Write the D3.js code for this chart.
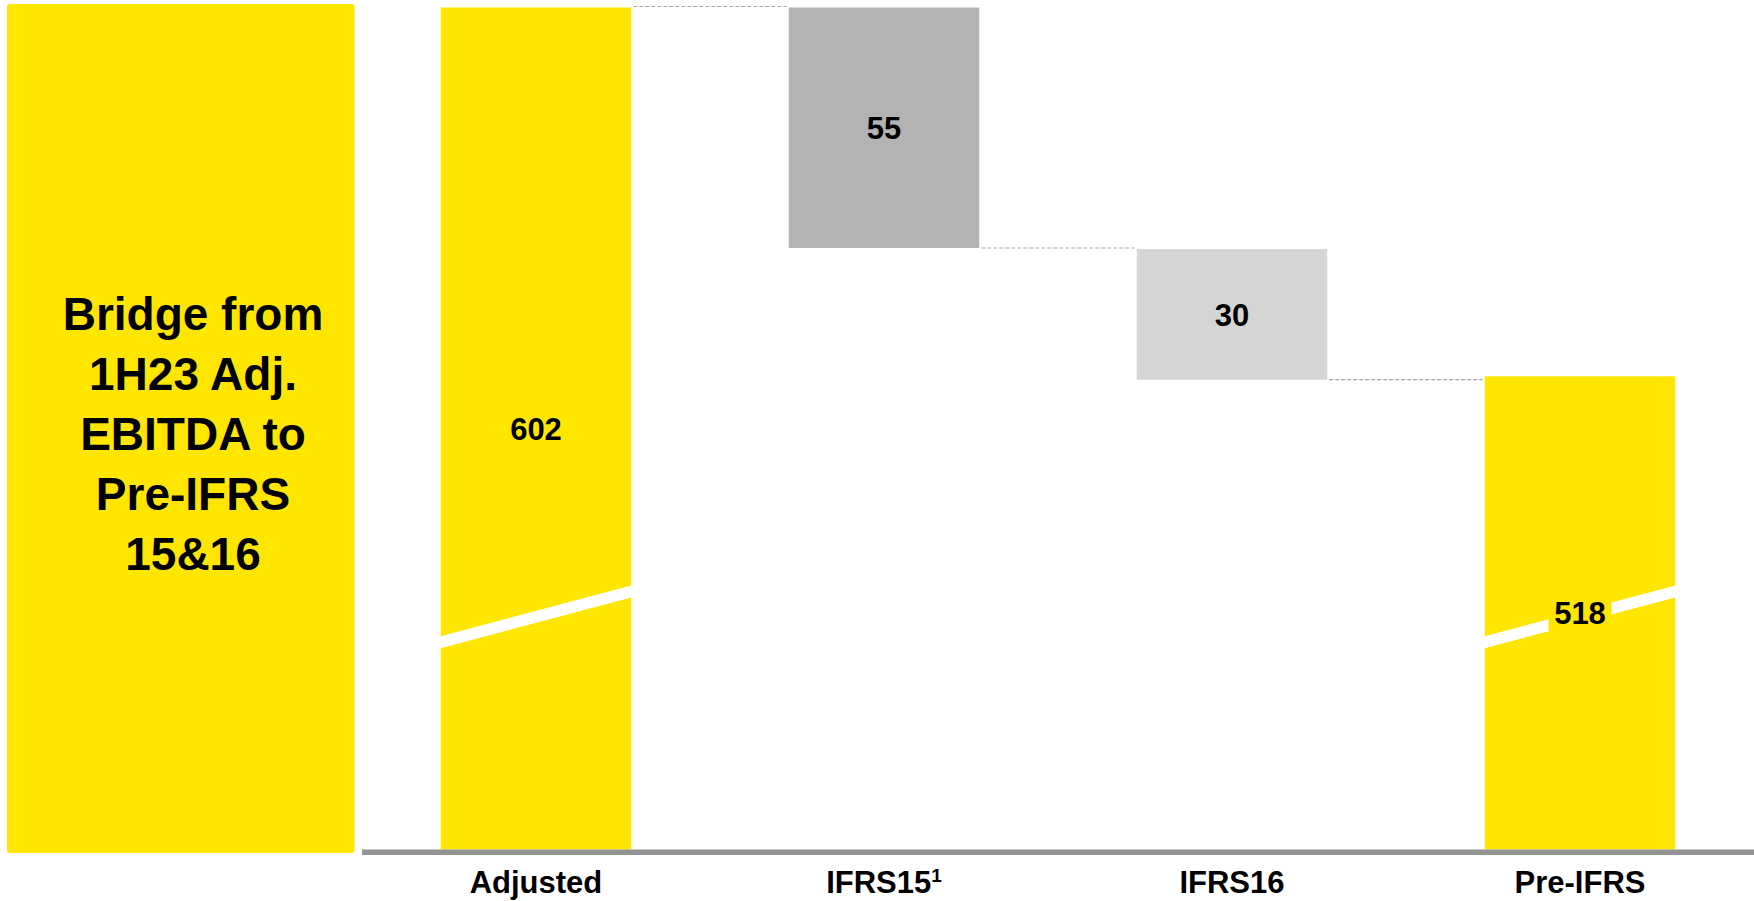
<!DOCTYPE html>
<html>
<head>
<meta charset="utf-8">
<script src="https://cdn.jsdelivr.net/npm/d3@7"></script>
<style>
  html, body { margin: 0; padding: 0; background: #fff; }
  svg { display: block; }
  text { font-family: "Liberation Sans", Arial, sans-serif; font-weight: bold; fill: #000; }
</style>
</head>
<body>
<svg id="chart" width="1754" height="901"></svg>
<script>
// EBITDA bridge: 1H23 adjusted EBITDA to pre-IFRS 15 & 16
const categories = ["Adjusted", "IFRS15", "IFRS16", "Pre-IFRS"];
const footnoteMarks = ["", "1", "", ""];
const barKinds = ["total", "delta", "delta", "total"];
const values = [602, -55, -30, 518];
const valueLabels = ["602", "55", "30", "518"];
const panelLines = ["Bridge from", "1H23 Adj.", "EBITDA to", "Pre-IFRS", "15&16"];

// broken value axis: bars start from this floor, a slanted cut marks the break
const axisFloor = 410;
const axisTop = 602;
const breakValue = 463;

const W = 1754, H = 901;
const YELLOW = "#FFE600";
const fills = { total: YELLOW, delta: ["#B3B3B3", "#D5D5D5"] };

const svg = d3.select("#chart");

// side panel with the bridge title
const panel = svg.append("g");
panel.append("rect")
  .attr("x", 7).attr("y", 4).attr("width", 347.5).attr("height", 849)
  .attr("rx", 3).attr("fill", YELLOW);
panel.selectAll("text").data(panelLines).join("text")
  .attr("x", 193)
  .attr("y", (d, i) => 330 + i * 60)
  .attr("text-anchor", "middle")
  .attr("font-size", 46)
  .text(d => d);

// scales
const x = d3.scaleBand()
  .domain(categories)
  .range([362, W])
  .paddingInner(0.4526)
  .paddingOuter(0.2263);
const y = d3.scaleLinear().domain([axisFloor, axisTop]).range([849.5, 6.5]);

// waterfall segments from running totals
let running = 0, deltaIdx = 0;
const bars = categories.map((c, i) => {
  let lo, hi, fill;
  if (barKinds[i] === "total") {
    lo = axisFloor; hi = values[i]; running = values[i]; fill = fills.total;
  } else {
    const start = running;
    running = start + values[i];
    lo = Math.min(start, running); hi = Math.max(start, running);
    fill = fills.delta[deltaIdx++];
  }
  return { cat: c, kind: barKinds[i], lo, hi, end: running, fill, label: valueLabels[i] };
});

const bw = x.bandwidth();

// dashed connectors between consecutive bars
const connectors = bars.slice(0, -1).map((b, i) => ({
  x1: x(b.cat) + bw + 2,
  x2: x(bars[i + 1].cat) - 2,
  v: b.kind === "total" ? b.hi : b.end
}));
svg.append("g").selectAll("line").data(connectors).join("line")
  .attr("x1", d => d.x1).attr("x2", d => d.x2)
  .attr("y1", d => y(d.v)).attr("y2", d => y(d.v))
  .attr("stroke", "#A8A8A8").attr("stroke-width", 1.2)
  .attr("stroke-dasharray", "4 2");

// bars (inset by a hairline so stacked steps stay separated)
const barG = svg.append("g");
barG.selectAll("rect").data(bars).join("rect")
  .attr("x", d => x(d.cat))
  .attr("y", d => y(d.hi) + 1)
  .attr("width", bw)
  .attr("height", d => y(d.lo) - y(d.hi) - 1)
  .attr("fill", d => d.fill);

// slanted axis-break cut on the total bars
const slope = 0.2667, cutHalf = 6;
const yb = y(breakValue);
const totals = bars.filter(d => d.kind === "total");
barG.selectAll("polygon").data(totals).join("polygon")
  .attr("fill", "#fff")
  .attr("points", d => {
    const x0 = x(d.cat) - 1, x1 = x(d.cat) + bw + 1;
    const yl = yb + slope * (bw / 2 + 1), yr = yb - slope * (bw / 2 + 1);
    return [[x0, yl - cutHalf], [x1, yr - cutHalf], [x1, yr + cutHalf], [x0, yl + cutHalf]]
      .map(p => p.join(",")).join(" ");
  });

// value labels in the middle of each bar
const labelG = svg.append("g");
const labels = labelG.selectAll("g").data(bars).join("g")
  .attr("transform", d => `translate(${x(d.cat) + bw / 2},${(y(d.hi) + 1 + y(d.lo)) / 2})`);
labels.filter(d => d.kind === "total").append("rect")
  .attr("x", -31.5).attr("y", -18).attr("width", 63).attr("height", 36)
  .attr("fill", YELLOW);
labels.append("text")
  .attr("text-anchor", "middle")
  .attr("dy", "0.36em")
  .attr("font-size", 31)
  .text(d => d.label);

// category axis
svg.append("line")
  .attr("x1", 362).attr("x2", W)
  .attr("y1", 852.3).attr("y2", 852.3)
  .attr("stroke", "#939393").attr("stroke-width", 5.5);

const catText = svg.append("g").selectAll("text").data(categories).join("text")
  .attr("x", d => x(d) + bw / 2)
  .attr("y", 892.5)
  .attr("text-anchor", "middle")
  .attr("font-size", 31);
catText.append("tspan").text(d => d);
catText.filter((d, i) => footnoteMarks[i]).append("tspan")
  .attr("font-size", 19)
  .attr("dy", -11)
  .text(d => footnoteMarks[categories.indexOf(d)]);
</script>
</body>
</html>
